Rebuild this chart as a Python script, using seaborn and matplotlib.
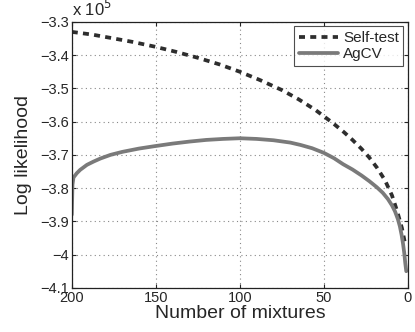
import numpy as np
import pandas as pd
import matplotlib
matplotlib.use("Agg")
import matplotlib.pyplot as plt
import seaborn as sns

# values in units of 1e5
self_x = [200, 188, 177, 164, 151, 138, 125, 112, 100, 88, 75, 65, 55, 45, 38, 33,
          27.6, 23, 18.5, 13.7, 9.5, 6.5, 3.6, 2]
self_y = [-3.33, -3.338, -3.348, -3.36, -3.374, -3.39, -3.408, -3.428, -3.45, -3.475,
          -3.505, -3.533, -3.565, -3.603, -3.632, -3.655, -3.682, -3.708, -3.738,
          -3.776, -3.822, -3.868, -3.92, -3.96]

agcv_x = [200, 199.6, 199, 197, 195, 191, 187, 183, 177, 170, 160, 151, 140, 130, 120,
          110, 100, 90, 80, 70, 64, 57, 50, 44, 38.6, 33, 27.6, 23, 18.6, 15, 11.9,
          9.5, 7.7, 6, 4.8, 3.8, 2.9, 2.2, 1.6, 1]
agcv_y = [-3.88, -3.79, -3.768, -3.755, -3.745, -3.73, -3.72, -3.711, -3.70, -3.691,
          -3.681, -3.674, -3.666, -3.66, -3.655, -3.652, -3.65, -3.652, -3.656, -3.663,
          -3.67, -3.68, -3.694, -3.71, -3.728, -3.744, -3.762, -3.779, -3.797, -3.814,
          -3.833, -3.852, -3.87, -3.893, -3.915, -3.94, -3.968, -3.995, -4.025, -4.05]

df = pd.concat([
    pd.DataFrame({"mixtures": self_x, "ll": self_y, "method": "Self-test"}),
    pd.DataFrame({"mixtures": agcv_x, "ll": agcv_y, "method": "AgCV"}),
])

sns.set_style("ticks")
plt.rcParams["font.family"] = ["Liberation Sans", "DejaVu Sans"]

fig = plt.figure(figsize=(4.15, 3.32), dpi=100)
ax = fig.add_axes([0.173, 0.133, 0.81, 0.801])

sns.lineplot(data=df, x="mixtures", y="ll", hue="method", style="method",
             palette={"Self-test": "#2e2e2e", "AgCV": "#7a7a7a"},
             dashes={"Self-test": (1.6, 1.4), "AgCV": ""},
             linewidth=2.7, sort=False, estimator=None, ax=ax)
for ln in ax.lines:
    ln.set_solid_joinstyle("round")

ax.set_xlim(200, 0)
ax.set_ylim(-4.1, -3.3)
ax.set_xticks([200, 150, 100, 50, 0])
ax.set_yticks(np.arange(-4.1, -3.25, 0.1))
ax.yaxis.set_major_formatter(matplotlib.ticker.FuncFormatter(
    lambda v, p: ("%g" % round(v, 2)).replace("-", "\u2212")))
ax.grid(True, linestyle=(0, (1, 3)), color="#888888", linewidth=0.8)
ax.tick_params(direction="in", top=True, right=True, labelsize=10.5, length=3, width=0.8, pad=2)
for s in ax.spines.values():
    s.set_linewidth(0.9)
    s.set_color("#222222")

ax.set_xlabel("Number of mixtures", fontsize=14, labelpad=0)
ax.set_ylabel("Log likelihood", fontsize=14, labelpad=6)
ax.text(0.0, 1.01, r"x 10$^5$", transform=ax.transAxes, fontsize=12, ha="left", va="bottom")

leg = ax.legend(loc="upper right", fontsize=11, frameon=True, fancybox=False,
                handlelength=2.6, borderpad=0.3, labelspacing=0.15, handletextpad=0.3,
                borderaxespad=0.3)
leg.get_frame().set_edgecolor("#222222")
leg.get_frame().set_linewidth(0.8)
leg.set_title(None)

fig.savefig("out.png", dpi=100)
